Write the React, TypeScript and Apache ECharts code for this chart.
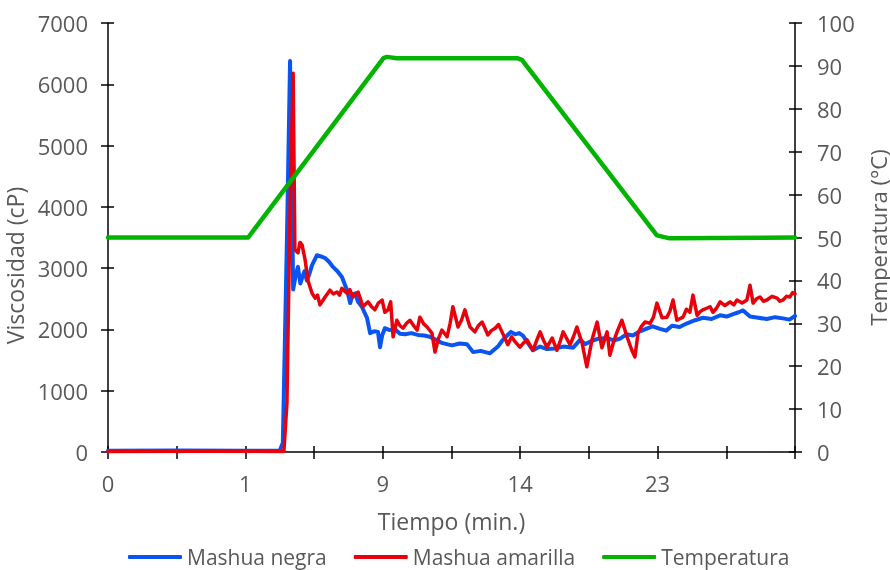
import React, { useEffect, useRef } from "react";
import * as echarts from "echarts";

// x = sample index (0..200); tick labels show elapsed time (min.)
const xTickLabels = ["0", "1", "9", "14", "23"];

const mashuaNegra: [number, number][] = [
  [0, 20], [20, 25], [40, 20], [50, 20], [50.9, 150], [52.1, 3500], [53.0, 6380], [53.6, 4000],
  [53.9, 2650], [54.7, 2900], [55.3, 3020], [56.0, 2750], [56.5, 2840], [57.2, 2950], [57.9, 2800],
  [58.6, 2900], [59.4, 3050], [60.8, 3210], [62.0, 3190], [63.2, 3165], [64.4, 3100], [65.5, 3020],
  [66.8, 2950], [68.1, 2855], [69.6, 2640], [70.5, 2430], [71.2, 2560], [71.9, 2590], [72.8, 2450],
  [73.9, 2370], [75.4, 2190], [76.3, 1940], [77.5, 1970], [78.6, 1960], [79.2, 1710], [79.8, 1900],
  [80.6, 2020], [82.0, 1990], [83.6, 2000], [85.0, 1930], [86.5, 1920], [88.3, 1940], [90.2, 1910],
  [92.0, 1900], [93.7, 1880], [95.5, 1830], [97.2, 1780], [98.6, 1760], [100.1, 1740], [102.4, 1770],
  [104.5, 1760], [106.3, 1630], [108.5, 1650], [111.2, 1610], [113.5, 1720], [114.8, 1820],
  [116.2, 1900], [117.3, 1960], [118.5, 1920], [119.7, 1940], [120.8, 1900], [122.2, 1780],
  [123.7, 1660], [125.8, 1720], [127.8, 1680], [130.1, 1690], [132.6, 1720], [135.4, 1700],
  [137.4, 1830], [138.9, 1760], [140.3, 1800], [142.8, 1850], [145.3, 1860], [147.2, 1820],
  [149.1, 1850], [150.9, 1920], [152.8, 1900], [154.5, 1960], [156.3, 2000], [158.5, 2050],
  [160.7, 2010], [162.5, 1980], [164.2, 2060], [166.4, 2040], [168.6, 2100], [170.9, 2150],
  [173.2, 2190], [175.7, 2170], [178.2, 2230], [180.1, 2210], [182.0, 2250], [183.6, 2280],
  [184.9, 2310], [186.9, 2210], [189.3, 2190], [191.8, 2170], [194.2, 2200], [196.5, 2180],
  [198.4, 2160], [200, 2220]
];

const mashuaAmarilla: [number, number][] = [
  [0, 10], [25, 12], [51.2, 10], [52.1, 800], [53.0, 4000], [53.9, 6180], [54.4, 3300],
  [55.3, 3250], [55.9, 3420], [56.5, 3380], [57.4, 3130], [58.2, 2800], [59.4, 2590], [60.3, 2510],
  [61.0, 2560], [61.7, 2400], [62.4, 2460], [63.2, 2530], [64.6, 2640], [65.6, 2580], [66.7, 2610],
  [67.4, 2560], [68.1, 2670], [69.6, 2590], [70.4, 2650], [71.3, 2530], [72.8, 2610], [73.5, 2500],
  [74.2, 2370], [75.7, 2450], [76.6, 2380], [77.7, 2320], [78.7, 2430], [79.8, 2480], [80.6, 2280],
  [81.5, 2320], [82.3, 2450], [83.0, 1880], [84.1, 2150], [85.0, 2060], [85.9, 2020], [86.9, 2100],
  [87.9, 2150], [89.0, 2060], [90.0, 1990], [90.8, 2200], [91.9, 2090], [92.9, 2040], [94.3, 1940],
  [95.2, 1630], [96.2, 1850], [97.2, 1990], [98.7, 1880], [99.6, 2100], [100.4, 2370], [101.9, 2040],
  [102.9, 2150], [103.9, 2320], [104.6, 2180], [105.4, 2040], [106.8, 1960], [107.8, 2060],
  [108.9, 2120], [109.8, 2010], [110.6, 1910], [111.6, 1980], [112.7, 2020], [113.7, 2080],
  [114.7, 1960], [115.6, 1850], [116.4, 1750], [117.5, 1880], [118.5, 1800], [119.9, 1710],
  [121.0, 1780], [122.0, 1830], [123.7, 1660], [124.8, 1820], [125.8, 1960], [126.8, 1820],
  [127.8, 1710], [129.3, 1860], [130.7, 1660], [131.6, 1800], [132.5, 1960], [134.5, 1750],
  [135.5, 1880], [136.5, 2040], [138.0, 1780], [139.4, 1390], [140.9, 1830], [142.4, 2120],
  [143.8, 1700], [145.3, 1960], [146.1, 1580], [147.2, 1800], [148.2, 1960], [149.6, 2150],
  [151.1, 1880], [152.5, 1660], [153.4, 1550], [154.3, 1940], [155.3, 2050], [156.3, 2120],
  [157.8, 2100], [158.8, 2200], [159.8, 2430], [161.3, 2190], [162.7, 2200], [163.6, 2300],
  [164.5, 2480], [165.6, 2150], [167.4, 2200], [168.4, 2330], [169.4, 2280], [170.3, 2560],
  [171.5, 2230], [172.4, 2290], [173.2, 2320], [175.3, 2370], [176.1, 2280], [177.2, 2350],
  [178.2, 2450], [179.6, 2390], [181.1, 2450], [182.2, 2400], [183.1, 2480], [184.6, 2430],
  [186.0, 2480], [186.9, 2720], [187.8, 2430], [188.8, 2500], [189.8, 2530], [190.8, 2460],
  [191.8, 2480], [193.3, 2540], [194.8, 2510], [195.6, 2460], [196.5, 2480], [197.5, 2540],
  [198.5, 2530], [199.3, 2600], [200, 2580]
];

const temperatura: [number, number][] = [
  [0, 50], [40.8, 50], [80.2, 91.8], [81.2, 92.1], [84, 91.8], [119.1, 91.8], [120.5, 91.4],
  [159.8, 50.5], [163.5, 49.8], [200, 50.0]
];

const FONT = "Open Sans";
const GREY = "#595959";

export default function App() {
  const ref = useRef<HTMLDivElement>(null);
  useEffect(() => {
    if (!ref.current) return;
    const chart = echarts.init(ref.current, undefined, { renderer: "svg" });
    const axisLine = { show: true, onZero: false, lineStyle: { color: "#000", width: 1.5 } };
    const noLine = { show: false, onZero: false };
    const tickOut = { show: true, length: 7, lineStyle: { color: "#000", width: 1.5 } };
    const tickIn = { show: true, inside: true, length: 6, lineStyle: { color: "#000", width: 1.5 } };
    const label = { color: GREY, fontSize: 22, fontFamily: FONT };
    const nameStyle = { color: GREY, fontSize: 23, fontFamily: FONT };
    chart.setOption({
      animation: false,
      grid: { left: 108, right: 95, top: 23, bottom: 118, outerBoundsMode: "none", containLabel: false },
      legend: {
        top: 545,
        left: 128,
        padding: 0,
        itemWidth: 54,
        itemHeight: 4,
        itemGap: 27,
        icon: "roundRect",
        textStyle: { color: GREY, fontSize: 21, fontFamily: FONT, lineHeight: 24 },
        data: ["Mashua negra", "Mashua amarilla", "Temperatura"]
      },
      xAxis: [
        {
          type: "value",
          min: 0,
          max: 200,
          interval: 20,
          name: "Tiempo (min.)",
          nameLocation: "middle",
          nameGap: 57,
          nameTextStyle: nameStyle,
          axisLine,
          axisTick: tickOut,
          axisLabel: {
            ...label,
            margin: 20,
            formatter: (v: number) => (v % 40 === 0 ? xTickLabels[v / 40] ?? "" : "")
          },
          splitLine: { show: false }
        },
        {
          type: "value",
          position: "bottom",
          min: 0,
          max: 200,
          interval: 20,
          axisLine: noLine,
          axisTick: tickIn,
          axisLabel: { show: false },
          splitLine: { show: false }
        }
      ],
      yAxis: [
        {
          type: "value",
          min: 0,
          max: 7000,
          interval: 1000,
          position: "left",
          name: "Viscosidad (cP)",
          nameLocation: "middle",
          nameRotate: 90,
          nameGap: 70,
          nameTextStyle: { ...nameStyle, padding: [0, 56, 0, 0] },
          axisLine,
          axisTick: tickOut,
          axisLabel: { ...label, margin: 20, formatter: (v: number) => String(v) },
          splitLine: { show: false }
        },
        {
          type: "value",
          min: 0,
          max: 100,
          interval: 10,
          position: "right",
          name: "Temperatura (°C)",
          nameLocation: "middle",
          nameRotate: 90,
          nameGap: 56,
          nameTextStyle: { ...nameStyle, fontSize: 22, lineHeight: 24 },
          axisLine,
          axisTick: tickOut,
          axisLabel: { ...label, margin: 22, formatter: (v: number) => String(v) },
          splitLine: { show: false }
        },
        {
          type: "value",
          min: 0,
          max: 7000,
          interval: 1000,
          position: "left",
          axisLine: noLine,
          axisTick: tickIn,
          axisLabel: { show: false },
          splitLine: { show: false }
        },
        {
          type: "value",
          min: 0,
          max: 100,
          interval: 10,
          position: "right",
          axisLine: noLine,
          axisTick: tickIn,
          axisLabel: { show: false },
          splitLine: { show: false }
        }
      ],
      series: [
        {
          name: "Mashua negra",
          type: "line",
          data: mashuaNegra,
          showSymbol: false,
          symbol: "none",
          itemStyle: { color: "#0A55F2" },
          lineStyle: { color: "#0A55F2", width: 4, join: "round", cap: "round" }
        },
        {
          name: "Mashua amarilla",
          type: "line",
          data: mashuaAmarilla,
          showSymbol: false,
          symbol: "none",
          itemStyle: { color: "#E8000B" },
          lineStyle: { color: "#E8000B", width: 3.5, join: "round", cap: "round" }
        },
        {
          name: "Temperatura",
          type: "line",
          yAxisIndex: 1,
          data: temperatura,
          showSymbol: false,
          symbol: "none",
          itemStyle: { color: "#00B400" },
          lineStyle: { color: "#00B400", width: 4.5, join: "round", cap: "round" }
        }
      ]
    });
    return () => chart.dispose();
  }, []);
  return <div ref={ref} style={{ position: "fixed", left: 0, top: 0, width: 890, height: 570 }} />;
}
